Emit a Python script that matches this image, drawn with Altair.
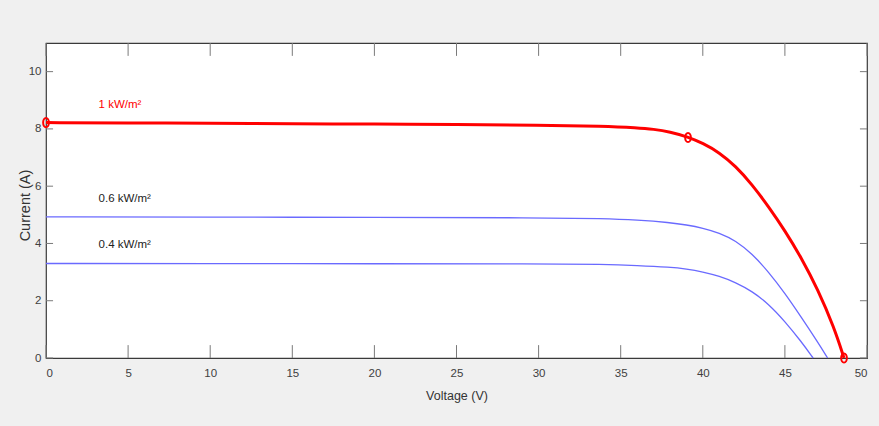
import altair as alt
import pandas as pd

# I-V characteristics of a PV module at three irradiance levels
v_1000 = [0, 5, 10, 15, 20, 25, 30, 34, 36, 37, 38, 39.1, 40, 41, 42, 43, 44, 45,
          46, 47, 48, 48.6]
i_1000 = [8.22, 8.21, 8.2, 8.18, 8.17, 8.15, 8.13, 8.1, 8.04, 7.99, 7.9, 7.72, 7.5, 7.18,
          6.7, 6.06, 5.29, 4.45, 3.5, 2.4, 1.06, 0.0]

v_600 = [0, 10, 20, 30, 34, 36, 38, 39, 40, 41, 42, 43, 44, 45, 46, 47, 47.6]
i_600 = [4.93, 4.92, 4.91, 4.9, 4.87, 4.82, 4.73, 4.65, 4.54, 4.37, 4.1, 3.64, 3.01,
         2.26, 1.42, 0.55, 0.0]

v_400 = [0, 10, 20, 30, 34, 36, 38, 39, 40, 41, 42, 43, 44, 45, 46, 46.72]
i_400 = [3.3, 3.3, 3.29, 3.29, 3.27, 3.23, 3.17, 3.11, 3.01, 2.86, 2.64, 2.33, 1.89,
         1.28, 0.57, 0.0]

# Short-circuit, maximum-power and open-circuit points at 1 kW/m2
key_v = [0, 39.1, 48.6]
key_i = [8.22, 7.7, 0.0]

labels = ["1 kW/m\u00b2", "0.6 kW/m\u00b2", "0.4 kW/m\u00b2"]
label_v = [3.2, 3.2, 3.2]
label_i = [8.74, 5.45, 3.85]
label_color = ["#ff0000", "#222222", "#222222"]

x_ticks = [0, 5, 10, 15, 20, 25, 30, 35, 40, 45, 50]
y_ticks = [0, 2, 4, 6, 8, 10]

FONT = "Liberation Sans, Arial, sans-serif"
ELLIPSE = "M0,-1A0.62,1 0 1,1 0,1A0.62,1 0 1,1 0,-1Z"

xs = alt.Scale(domain=[0, 50], nice=False)
ys = alt.Scale(domain=[0, 11], nice=False)

x_axis = alt.Axis(values=x_ticks, title="Voltage (V)", grid=False, domain=False,
                  ticks=False, labelPadding=9, titlePadding=11)
y_axis = alt.Axis(values=y_ticks, title="Current (A)", grid=False, domain=False,
                  ticks=False, labelPadding=5, titleX=-21, titleY=162,
                  titleBaseline="middle", titleAlign="center", titleAngle=270)

curves = pd.DataFrame({
    "v": v_1000 + v_600 + v_400,
    "i": i_1000 + i_600 + i_400,
    "g": ["1000"] * len(v_1000) + ["600"] * len(v_600) + ["400"] * len(v_400),
})

blue = alt.Chart(curves[curves.g != "1000"]).mark_line(
    color="#6a6aff", strokeWidth=1.3, interpolate="basis"
).encode(
    x=alt.X("v:Q", scale=xs, axis=x_axis),
    y=alt.Y("i:Q", scale=ys, axis=y_axis),
    detail="g:N",
)

red = alt.Chart(curves[curves.g == "1000"]).mark_line(
    color="#ff0000", strokeWidth=3, interpolate="basis"
).encode(x=alt.X("v:Q", scale=xs), y=alt.Y("i:Q", scale=ys))

points = alt.Chart(pd.DataFrame({"v": key_v, "i": key_i})).mark_point(
    shape=ELLIPSE, filled=False, color="#ff0000", size=85, strokeWidth=2, opacity=1
).encode(x=alt.X("v:Q", scale=xs), y=alt.Y("i:Q", scale=ys))

text = alt.Chart(pd.DataFrame({"v": label_v, "i": label_i, "t": labels, "c": label_color})).mark_text(
    align="left", baseline="alphabetic", font=FONT, fontSize=11.5
).encode(
    x=alt.X("v:Q", scale=xs), y=alt.Y("i:Q", scale=ys),
    text="t:N", color=alt.Color("c:N", scale=None),
)

# Inward tick marks on all four sides of the box
xt = pd.DataFrame({"v": x_ticks * 2,
                   "a": [0.0] * len(x_ticks) + [11.0] * len(x_ticks),
                   "b": [0.45] * len(x_ticks) + [10.55] * len(x_ticks)})
x_tick_marks = alt.Chart(xt).mark_rule(color="#7a7a7a", strokeWidth=1).encode(
    x=alt.X("v:Q", scale=xs), y=alt.Y("a:Q", scale=ys), y2="b:Q")

yt = pd.DataFrame({"i": y_ticks * 2,
                   "a": [0.0] * len(y_ticks) + [50.0] * len(y_ticks),
                   "b": [0.43] * len(y_ticks) + [49.57] * len(y_ticks)})
y_tick_marks = alt.Chart(yt).mark_rule(color="#7a7a7a", strokeWidth=1).encode(
    y=alt.Y("i:Q", scale=ys), x=alt.X("a:Q", scale=xs), x2="b:Q")

chart = alt.layer(x_tick_marks, y_tick_marks, blue, red, points, text).properties(
    width=821, height=315,
    autosize=alt.AutoSizeParams(type="none"),
    padding={"left": 46, "top": 43, "right": 12, "bottom": 68},
    background="#f0f0f0",
).configure_view(
    fill="white", stroke="#3a3a3a", strokeWidth=1.2,
).configure_axis(
    labelFont=FONT, labelFontSize=11.5, labelColor="#404040",
    titleFont=FONT, titleFontSize=12.5, titleColor="#333333", titleFontWeight="normal",
).configure_axisY(
    titleFontSize=14.5,
)

chart.save("out.html", embed_options={"renderer": "svg", "actions": False})
